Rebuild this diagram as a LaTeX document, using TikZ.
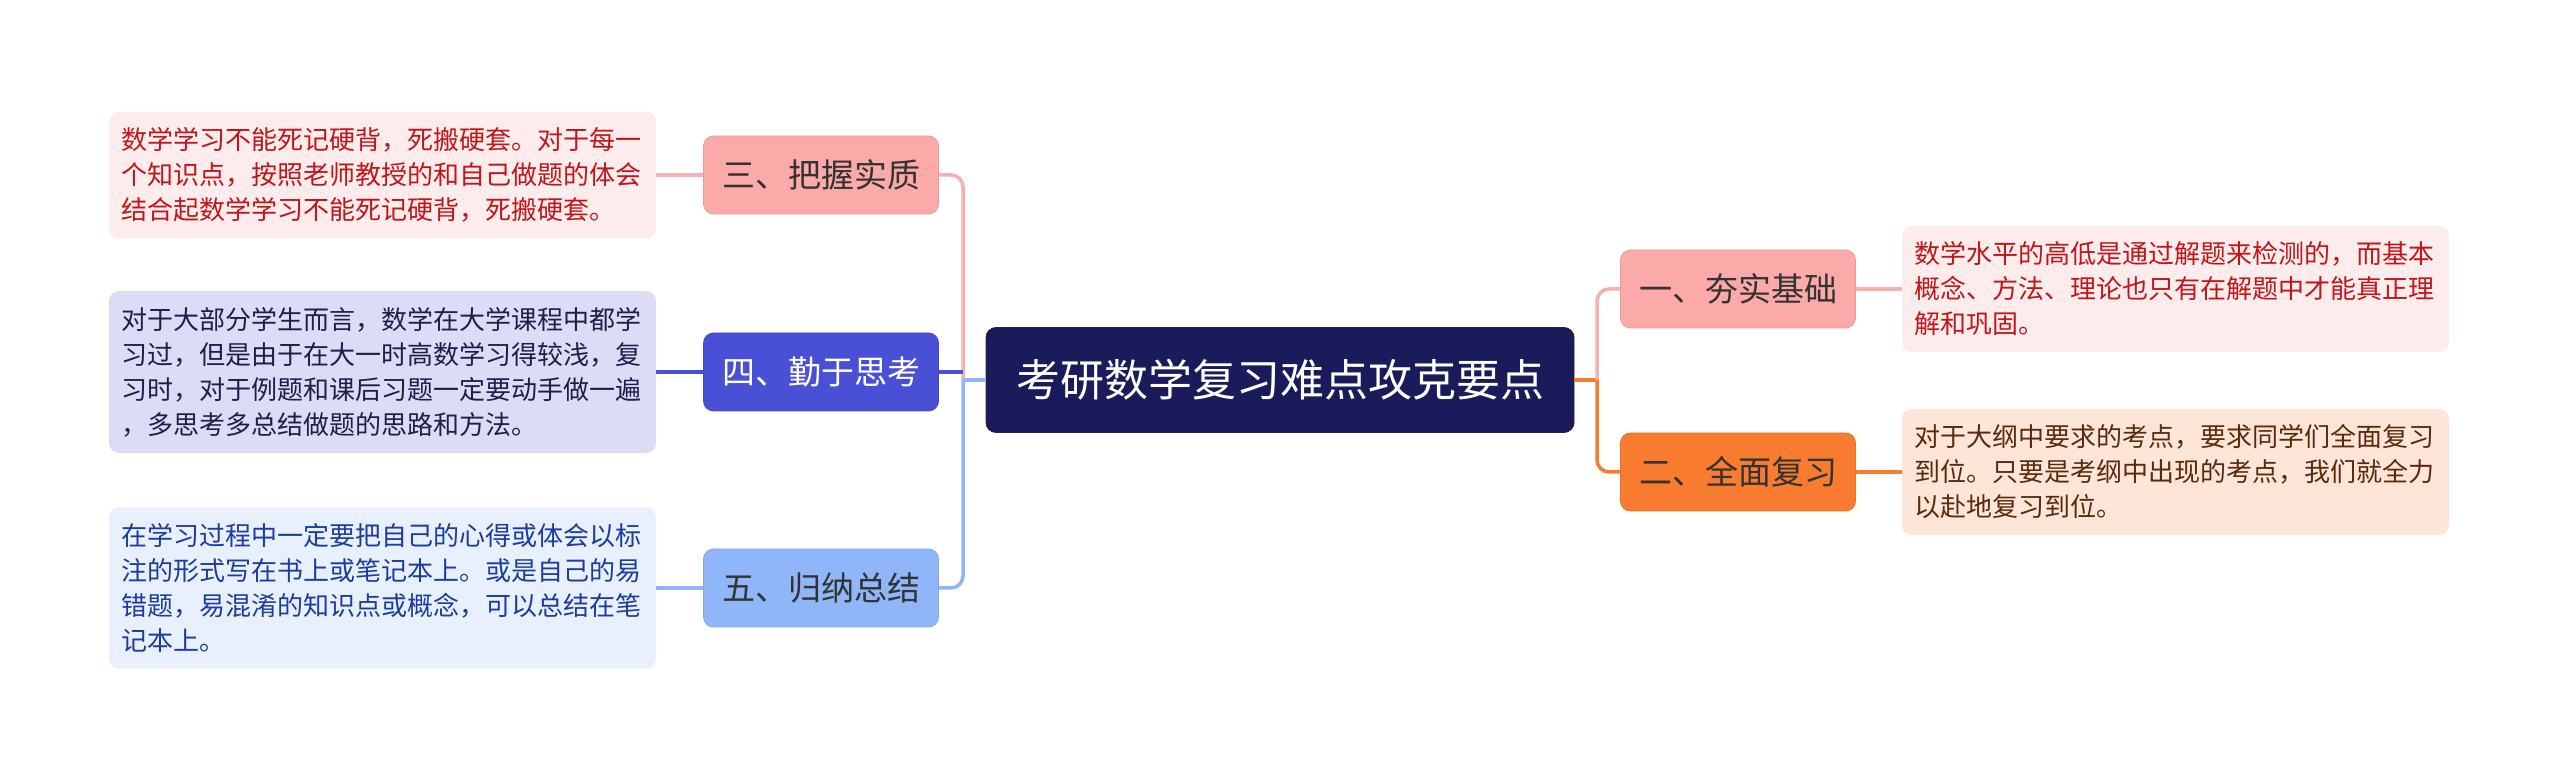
\documentclass[tikz,border=0pt]{standalone}
\usepackage{fontspec}
\setmainfont{Noto Sans CJK SC}
\definecolor{rootblue}{HTML}{1B1A5B}
\definecolor{pinkfill}{HTML}{FCA9A9}
\definecolor{pinkline}{HTML}{F7AFAF}
\definecolor{pinkdesc}{HTML}{FDECEC}
\definecolor{redtext}{HTML}{C0161B}
\definecolor{orangefill}{HTML}{F87B30}
\definecolor{peachdesc}{HTML}{FDE5D8}
\definecolor{browntext}{HTML}{5B2A0C}
\definecolor{indigofill}{HTML}{4A50D5}
\definecolor{lavdesc}{HTML}{DCDDF5}
\definecolor{darktext}{HTML}{1E1E4A}
\definecolor{skyfill}{HTML}{8EB6F8}
\definecolor{skydesc}{HTML}{E8F0FD}
\definecolor{bluetext}{HTML}{1D3D9E}
\tikzset{
  rootbox/.style={fill=rootblue, draw=black!85, rounded corners=5pt, text=white,
    minimum width=294pt, minimum height=52.5pt, font=\fontsize{22pt}{26pt}\selectfont},
  topicbox/.style={rounded corners=5pt, minimum width=117.5pt, minimum height=39pt,
    font=\fontsize{16.5pt}{20pt}\selectfont, text=black!80},
  descbox/.style={rounded corners=5pt, text width=261pt, align=left, inner xsep=6.25pt,
    inner ysep=8pt, font=\fontsize{13pt}{17.5pt}\selectfont},
  link/.style={line width=1.75pt, rounded corners=6pt},
}

\begin{document}
\begin{tikzpicture}[x=0.5pt,y=-0.5pt]
\useasboundingbox (0,0) rectangle (2560,779);
% root
\node[rootbox] (n0) at (1280,380) {考研数学复习难点攻克要点};
\coordinate (jl) at (963,380);
\coordinate (jr) at (1597,380);
% right side
\node[topicbox, fill=pinkfill, draw=pinkfill!92!black] (n1) at (1738,289) {一、夯实基础};
\node[topicbox, fill=orangefill, draw=orangefill!92!black] (n2) at (1738,472) {二、全面复习};
\node[descbox, fill=pinkdesc, text=redtext] (d1) at (2175.5,289)
  {数学水平的高低是通过解题来检测的，而基本\\概念、方法、理论也只有在解题中才能真正理\\解和巩固。};
\node[descbox, fill=peachdesc, text=browntext] (d2) at (2175.5,472)
  {对于大纲中要求的考点，要求同学们全面复习\\到位。只要是考纲中出现的考点，我们就全力\\以赴地复习到位。};
% left side
\node[topicbox, fill=pinkfill, draw=pinkfill!92!black] (n3) at (821,175) {三、把握实质};
\node[topicbox, fill=indigofill, draw=indigofill!92!black, text=white] (n4) at (821,372) {四、勤于思考};
\node[topicbox, fill=skyfill, draw=skyfill!92!black] (n5) at (821,588) {五、归纳总结};
\node[descbox, fill=pinkdesc, text=redtext] (d3) at (382.5,175)
  {数学学习不能死记硬背，死搬硬套。对于每一\\个知识点，按照老师教授的和自己做题的体会\\结合起数学学习不能死记硬背，死搬硬套。};
\node[descbox, fill=lavdesc, text=darktext] (d4) at (382.5,372)
  {对于大部分学生而言，数学在大学课程中都学\\习过，但是由于在大一时高数学习得较浅，复\\习时，对于例题和课后习题一定要动手做一遍\\，多思考多总结做题的思路和方法。};
\node[descbox, fill=skydesc, text=bluetext] (d5) at (382.5,588)
  {在学习过程中一定要把自己的心得或体会以标\\注的形式写在书上或笔记本上。或是自己的易\\错题，易混淆的知识点或概念，可以总结在笔\\记本上。};
% connectors
\draw[link, pinkline] (n3.east) -- (jl |- n3.east) -- (jl);
\draw[link, indigofill] (n4.east) -- (jl |- n4.east);
\draw[link, skyfill] (n0.west) -- (jl);
\draw[link, skyfill] (jl) -- (jl |- n5.east) -- (n5.east);
\draw[link, orangefill] (n0.east) -- (jr);
\draw[link, pinkline] (jr) -- (jr |- n1.west) -- (n1.west);
\draw[link, orangefill] (jr) -- (jr |- n2.west) -- (n2.west);
\draw[link, pinkline] (d3.east) -- (n3.west);
\draw[link, indigofill] (d4.east) -- (n4.west);
\draw[link, skyfill] (d5.east) -- (n5.west);
\draw[link, pinkline] (n1.east) -- (d1.west);
\draw[link, orangefill] (n2.east) -- (d2.west);
\end{tikzpicture}
\end{document}
